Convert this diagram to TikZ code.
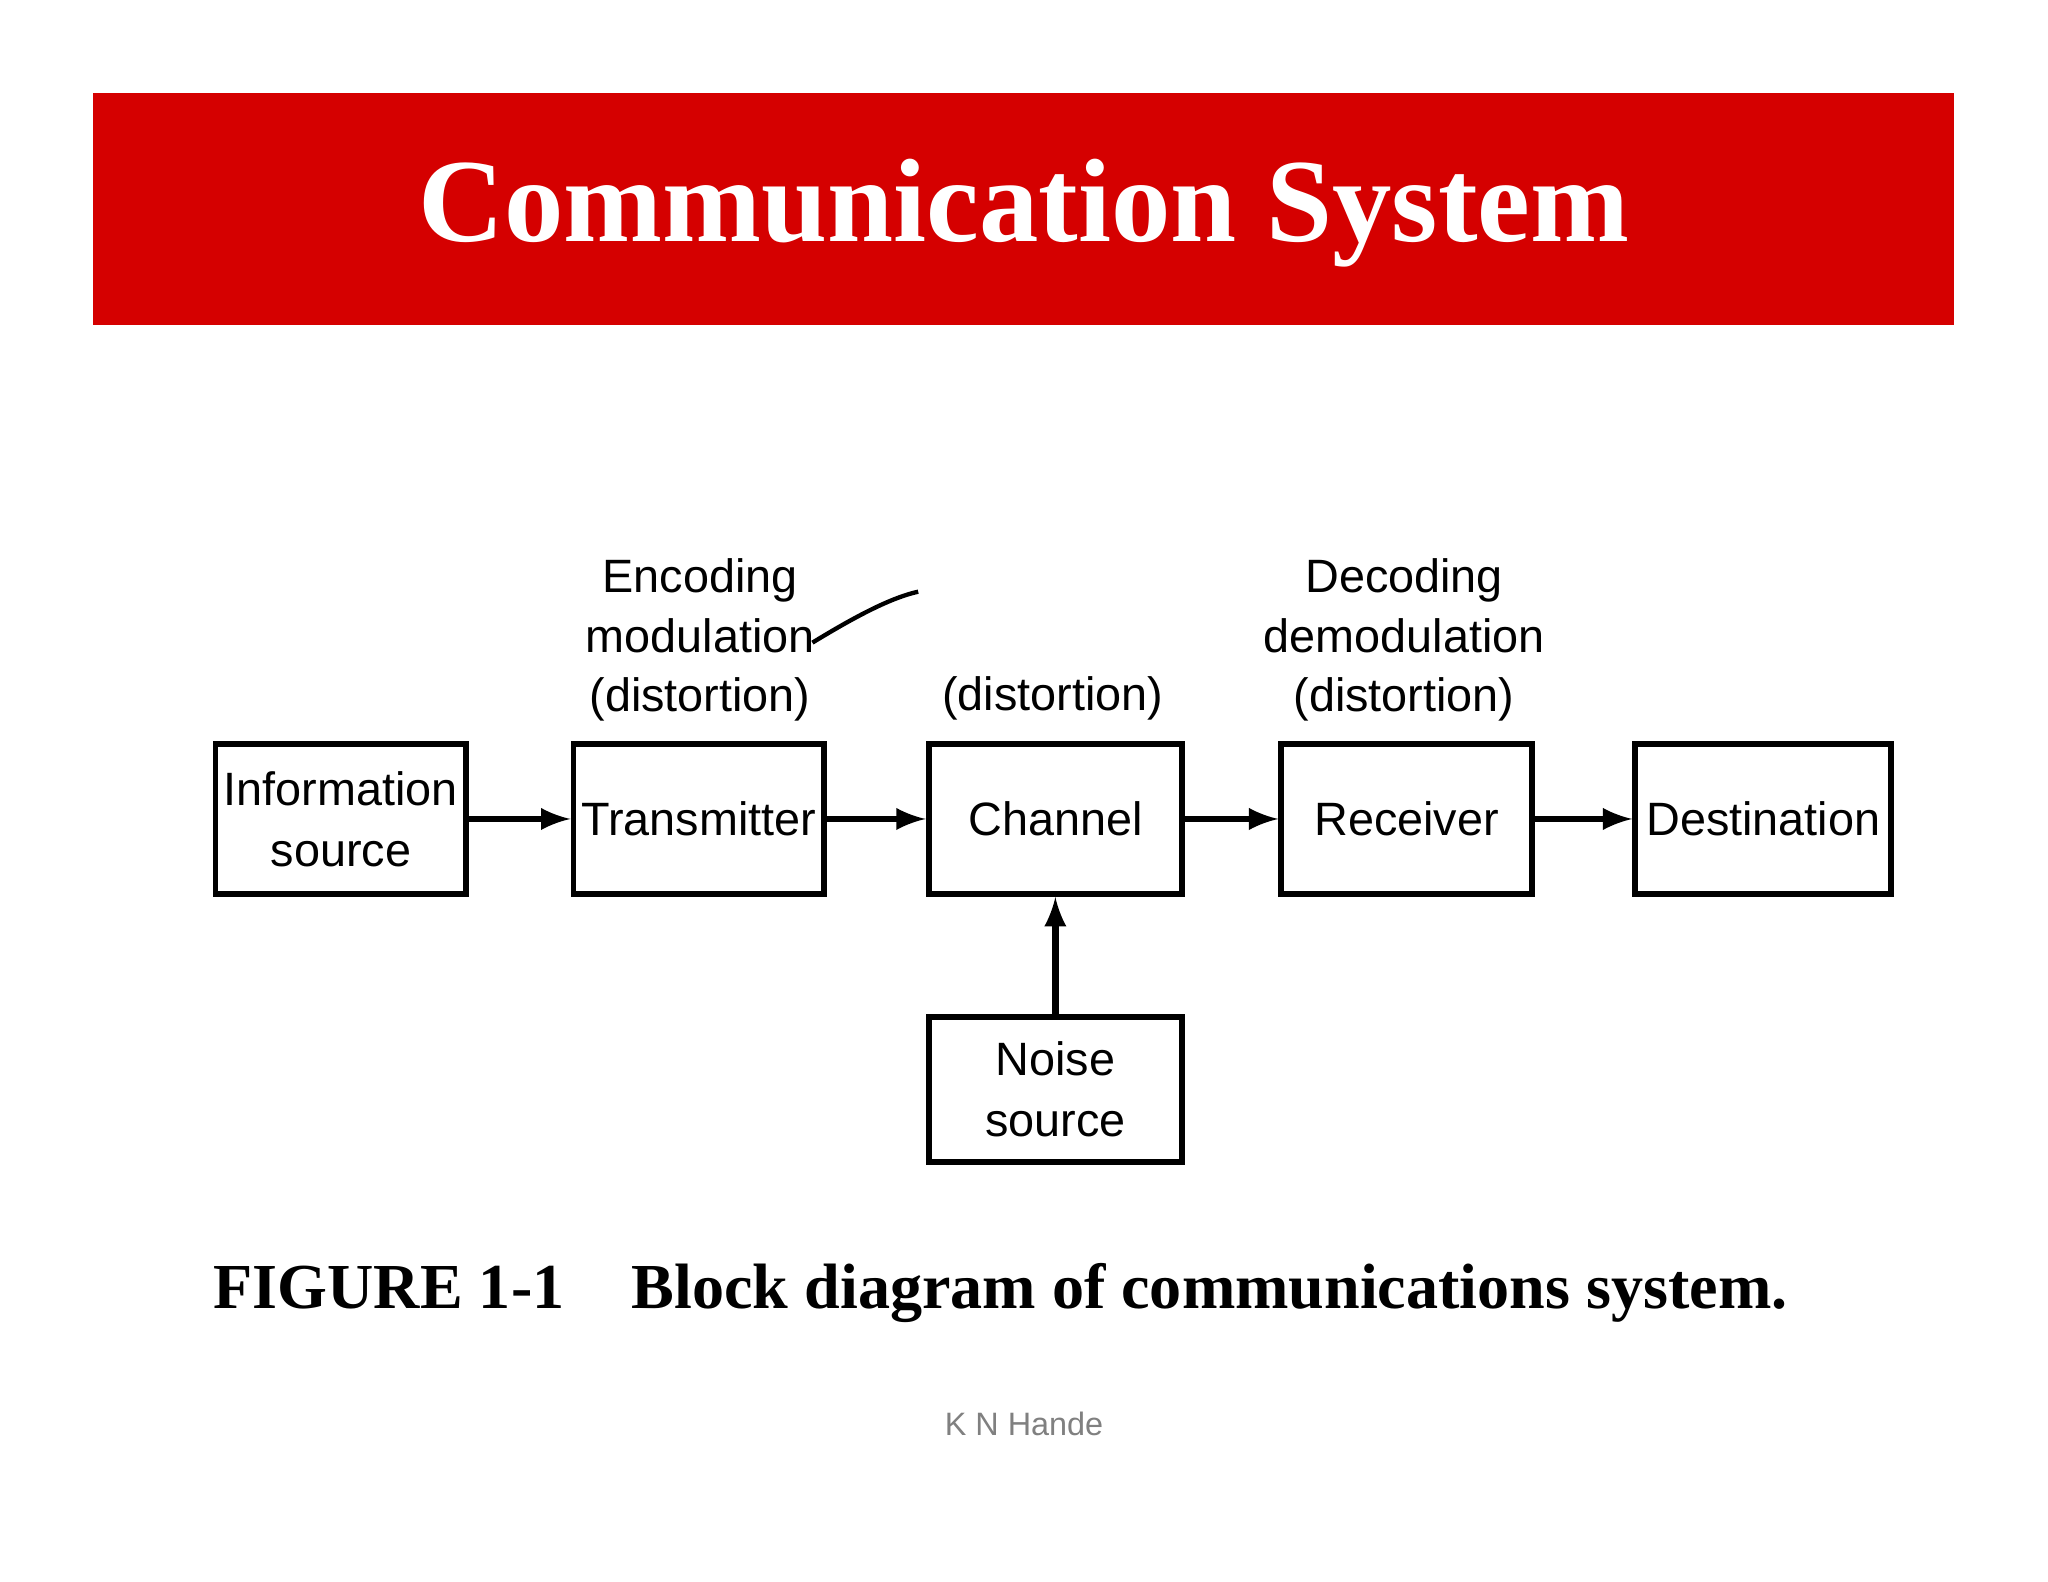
\documentclass[tikz,border=0pt]{standalone}
\usepackage{fontspec}
\setmainfont{Liberation Serif}
\setsansfont{Liberation Sans}
\usepackage{graphicx}
\definecolor{banner}{HTML}{D50000}
\begin{document}
\begin{tikzpicture}[x=0.01276cm,y=-0.01276cm,
  blk/.style={draw,line width=1.6pt,font=\sffamily\fontsize{13}{17}\selectfont,align=center,inner sep=0pt},
  lbl/.style={font=\sffamily\fontsize{13}{16.5}\selectfont,align=center},
  arr/.style={-latex,line width=1.8pt}]
\useasboundingbox (0,0) rectangle (1568,1211);
\fill[white] (0,0) rectangle (1568,1211);
\fill[banner] (71,71) rectangle (1496,249);
\node[text=white,font=\bfseries\fontsize{33}{36}\selectfont] (title) at (784,163) {Communication System};
\tikzset{bx/.style={blk,minimum width=192*0.01276cm,minimum height=115*0.01276cm}}
\node[bx] (src) at (261,627) {Information\\source};
\node[bx] (tx) at (535,627) {Transmitter};
\node[bx,minimum width=194*0.01276cm] (ch) at (808,627) {Channel};
\node[bx] (rx) at (1077,627) {Receiver};
\node[bx,minimum width=196*0.01276cm] (dst) at (1350,627) {Destination};
\node[bx,minimum width=194*0.01276cm,minimum height=111*0.01276cm] (ns) at (808,834) {Noise\\source};
\draw[arr] (src) -- (tx);
\draw[arr] (tx) -- (ch);
\draw[arr] (ch) -- (rx);
\draw[arr] (rx) -- (dst);
\draw[arr] (ns) -- (ch);
\node[lbl] (enc) at (536,490) {Encoding\\modulation\\(distortion)};
\node[lbl] (dist) at (806,535) {(distortion)};
\node[lbl] (dec) at (1075,490) {Decoding\\demodulation\\(distortion)};
\coordinate (c1) at (622,492);
\coordinate (c2) at (703,453);
\draw[line width=1.2pt] (c1) .. controls (650,475) and (680,458) .. (c2);
\node[anchor=west,inner sep=0pt] (cap) at (163,990) {\resizebox{1205\dimexpr 0.01276cm\relax}{!}{\bfseries\fontsize{24}{26}\selectfont FIGURE 1-1\hspace{0.8em} Block diagram of communications system.}};
\node[text=gray,font=\sffamily\fontsize{9}{11}\selectfont] (auth) at (784,1090) {K N Hande};
\end{tikzpicture}
\end{document}
